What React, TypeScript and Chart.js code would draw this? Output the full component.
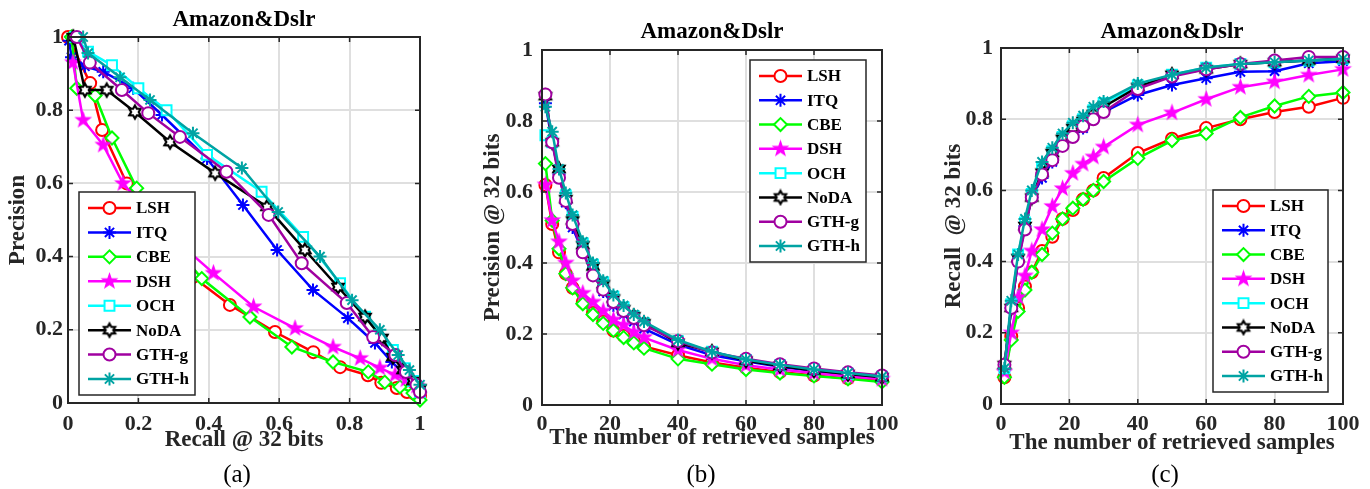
import React, { useEffect, useRef } from 'react';
import { Chart, registerables } from 'chart.js';
import { drawPoint } from 'chart.js/helpers';

Chart.register(...registerables);

const FONT = '"Liberation Serif", "Times New Roman", Times, serif';

// ---------- data ----------
const methodNames = ['LSH', 'ITQ', 'CBE', 'DSH', 'OCH', 'NoDA', 'GTH-g', 'GTH-h'];
const methodColors = ['#ff0000', '#0000ff', '#00ff00', '#ff00ff', '#00ffff', '#000000', '#a000a0', '#00a3a3'];

const unitTicks = [0, 0.2, 0.4, 0.6, 0.8, 1];
const sampleTicks = [0, 20, 40, 60, 80, 100];

// (a) precision-recall curves @ 32 bits
const recallLSH = [0.0, 0.063, 0.097, 0.167, 0.23, 0.29, 0.355, 0.46, 0.588, 0.697, 0.773, 0.852, 0.89, 0.934, 0.963, 0.985, 1.0];
const precisionLSH = [1.0, 0.874, 0.746, 0.6, 0.49, 0.41, 0.344, 0.268, 0.194, 0.139, 0.098, 0.076, 0.055, 0.041, 0.03, 0.025, 0.02];
const recallITQ = [0.003, 0.01, 0.048, 0.1, 0.185, 0.267, 0.395, 0.497, 0.594, 0.696, 0.795, 0.872, 0.92, 0.952, 0.98, 0.995];
const precisionITQ = [0.99, 0.945, 0.92, 0.905, 0.86, 0.787, 0.668, 0.541, 0.418, 0.309, 0.232, 0.164, 0.112, 0.082, 0.058, 0.035];
const recallCBE = [0.01, 0.025, 0.077, 0.125, 0.195, 0.26, 0.32, 0.38, 0.517, 0.636, 0.753, 0.853, 0.9, 0.943, 0.98, 1.0];
const precisionCBE = [1.0, 0.86, 0.84, 0.724, 0.587, 0.49, 0.41, 0.34, 0.235, 0.153, 0.112, 0.085, 0.057, 0.044, 0.027, 0.008];
const recallDSH = [0.014, 0.043, 0.1, 0.156, 0.22, 0.3, 0.413, 0.527, 0.645, 0.753, 0.83, 0.886, 0.929, 0.96, 0.99];
const precisionDSH = [0.93, 0.773, 0.705, 0.6, 0.53, 0.45, 0.355, 0.263, 0.204, 0.153, 0.122, 0.096, 0.077, 0.064, 0.047];
const recallOCH = [0.02, 0.057, 0.125, 0.2, 0.28, 0.395, 0.55, 0.668, 0.773, 0.844, 0.923, 0.957, 0.98, 1.0];
const precisionOCH = [1.0, 0.96, 0.923, 0.86, 0.8, 0.678, 0.577, 0.454, 0.327, 0.236, 0.145, 0.095, 0.06, 0.03];
const recallNoDA = [0.015, 0.048, 0.11, 0.19, 0.29, 0.418, 0.565, 0.673, 0.767, 0.844, 0.892, 0.923, 0.952, 0.98, 1.0];
const precisionNoDA = [1.0, 0.855, 0.855, 0.795, 0.713, 0.628, 0.536, 0.418, 0.317, 0.235, 0.178, 0.126, 0.09, 0.06, 0.04];
const recallGTHg = [0.025, 0.062, 0.153, 0.228, 0.318, 0.45, 0.57, 0.664, 0.792, 0.867, 0.93, 0.96, 0.99, 1.0];
const precisionGTHg = [1.0, 0.93, 0.855, 0.792, 0.727, 0.632, 0.514, 0.382, 0.273, 0.18, 0.131, 0.085, 0.05, 0.03];
const recallGTHh = [0.043, 0.057, 0.148, 0.233, 0.355, 0.494, 0.597, 0.716, 0.807, 0.886, 0.938, 0.97, 1.0];
const precisionGTHh = [1.0, 0.956, 0.89, 0.828, 0.737, 0.642, 0.522, 0.4, 0.281, 0.2, 0.131, 0.09, 0.05];

// (b), (c) versus number of retrieved samples
const retrievedSamples = [1, 3, 5, 7, 9, 12, 15, 18, 21, 24, 27, 30, 40, 50, 60, 70, 80, 90, 100];

const precAtK_LSH = [0.62, 0.51, 0.43, 0.37, 0.33, 0.29, 0.26, 0.235, 0.21, 0.195, 0.18, 0.165, 0.14, 0.12, 0.105, 0.093, 0.083, 0.075, 0.07];
const precAtK_ITQ = [0.85, 0.74, 0.65, 0.57, 0.5, 0.43, 0.37, 0.32, 0.28, 0.255, 0.235, 0.215, 0.17, 0.14, 0.123, 0.108, 0.096, 0.086, 0.078];
const precAtK_CBE = [0.68, 0.52, 0.44, 0.37, 0.33, 0.285, 0.255, 0.23, 0.21, 0.19, 0.175, 0.16, 0.13, 0.115, 0.1, 0.09, 0.082, 0.074, 0.065];
const precAtK_DSH = [0.62, 0.52, 0.46, 0.4, 0.35, 0.315, 0.29, 0.265, 0.24, 0.225, 0.205, 0.19, 0.155, 0.13, 0.112, 0.1, 0.09, 0.08, 0.073];
const precAtK_OCH = [0.76, 0.74, 0.66, 0.59, 0.53, 0.455, 0.395, 0.345, 0.305, 0.275, 0.25, 0.23, 0.18, 0.15, 0.127, 0.112, 0.1, 0.088, 0.08];
const precAtK_NoDA = [0.87, 0.74, 0.665, 0.58, 0.52, 0.45, 0.39, 0.34, 0.3, 0.27, 0.25, 0.23, 0.175, 0.15, 0.125, 0.11, 0.097, 0.087, 0.078];
const precAtK_GTHg = [0.875, 0.74, 0.64, 0.575, 0.51, 0.43, 0.365, 0.325, 0.29, 0.265, 0.245, 0.225, 0.18, 0.148, 0.13, 0.115, 0.103, 0.092, 0.083];
const precAtK_GTHh = [0.84, 0.77, 0.665, 0.597, 0.535, 0.46, 0.4, 0.35, 0.31, 0.28, 0.255, 0.235, 0.183, 0.15, 0.128, 0.113, 0.1, 0.09, 0.08];

const recAtK_LSH = [0.075, 0.19, 0.27, 0.33, 0.37, 0.43, 0.47, 0.52, 0.545, 0.575, 0.6, 0.635, 0.705, 0.745, 0.775, 0.8, 0.82, 0.835, 0.86];
const recAtK_ITQ = [0.1, 0.27, 0.4, 0.5, 0.58, 0.635, 0.68, 0.73, 0.755, 0.775, 0.8, 0.82, 0.868, 0.896, 0.915, 0.933, 0.935, 0.957, 0.963];
const recAtK_CBE = [0.075, 0.18, 0.26, 0.32, 0.37, 0.42, 0.48, 0.52, 0.55, 0.575, 0.6, 0.625, 0.69, 0.74, 0.76, 0.805, 0.837, 0.864, 0.875];
const recAtK_DSH = [0.09, 0.2, 0.3, 0.36, 0.43, 0.49, 0.555, 0.605, 0.648, 0.674, 0.694, 0.722, 0.784, 0.818, 0.856, 0.89, 0.905, 0.924, 0.94];
const recAtK_OCH = [0.1, 0.28, 0.42, 0.51, 0.59, 0.66, 0.71, 0.75, 0.78, 0.8, 0.825, 0.845, 0.895, 0.925, 0.945, 0.955, 0.96, 0.965, 0.97];
const recAtK_NoDA = [0.11, 0.27, 0.41, 0.5, 0.58, 0.65, 0.705, 0.745, 0.775, 0.795, 0.815, 0.835, 0.89, 0.925, 0.94, 0.955, 0.96, 0.965, 0.97];
const recAtK_GTHg = [0.11, 0.27, 0.4, 0.49, 0.58, 0.645, 0.685, 0.725, 0.75, 0.78, 0.8, 0.82, 0.885, 0.92, 0.94, 0.955, 0.965, 0.975, 0.975];
const recAtK_GTHh = [0.1, 0.29, 0.42, 0.52, 0.6, 0.68, 0.72, 0.76, 0.79, 0.81, 0.835, 0.85, 0.9, 0.925, 0.945, 0.955, 0.96, 0.965, 0.97];

// ---------- helpers ----------
function makeStarCanvas(points: number, outerR: number, innerR: number, fill: string, stroke: string, lw: number) {
  const size = Math.ceil(2 * outerR + lw + 2);
  const c = document.createElement('canvas');
  c.width = size;
  c.height = size;
  const g = c.getContext('2d')!;
  const cx = size / 2;
  const cy = size / 2;
  g.beginPath();
  for (let i = 0; i < points * 2; i++) {
    const r = i % 2 === 0 ? outerR : innerR;
    const ang = -Math.PI / 2 + (i * Math.PI) / points;
    const x = cx + r * Math.cos(ang);
    const y = cy + r * Math.sin(ang);
    if (i === 0) g.moveTo(x, y);
    else g.lineTo(x, y);
  }
  g.closePath();
  g.fillStyle = fill;
  g.fill();
  g.strokeStyle = stroke;
  g.lineWidth = lw;
  g.lineJoin = 'miter';
  g.stroke();
  return c;
}

function markerStyles() {
  const penta = makeStarCanvas(5, 7.5, 3.0, '#ff00ff', '#ff00ff', 1.2);
  const hexa = makeStarCanvas(6, 6.5, 3.8, '#ffffff', '#000000', 2.2);
  return [
    { pointStyle: 'circle', radius: 6 },
    { pointStyle: 'star', radius: 6.5 },
    { pointStyle: 'rectRot', radius: 6.5 },
    { pointStyle: penta, radius: 7 },
    { pointStyle: 'rect', radius: 7 },
    { pointStyle: hexa, radius: 7 },
    { pointStyle: 'circle', radius: 6 },
    { pointStyle: 'star', radius: 6.5 },
  ] as any[];
}

type Layout = {
  padRight: number;
  titleTop: number;
  titleBottom: number;
  yAxisWidth: number;
  xAxisHeight: number;
  yTitlePad: number;
  xTitlePad: number;
  xTickPad: number;
  yTickPad: number;
  legend: { dx: number; dy: number; w: number; h: number };
};

type ChartSpec = {
  xs: number[][];
  ys: number[][];
  xMax: number;
  xTicks: number[];
  xTitle: string;
  yTitle: string;
  layout: Layout;
};

function buildChart(canvas: HTMLCanvasElement, spec: ChartSpec) {
  const markers = markerStyles();
  const L = spec.layout;
  const datasets = methodNames.map((name, i) => ({
    label: name,
    data: spec.xs[i].map((x, j) => ({ x, y: spec.ys[i][j] })),
    showLine: true,
    borderColor: methodColors[i],
    backgroundColor: methodColors[i],
    borderWidth: 2.5,
    pointStyle: markers[i].pointStyle,
    pointRadius: markers[i].radius,
    pointBorderWidth: 2,
    pointBorderColor: methodColors[i],
    pointBackgroundColor: '#ffffff',
    clip: false as any,
    order: methodNames.length - i,
  }));

  const boxPlugin = {
    id: 'matlabBox',
    afterDatasetsDraw(chart: any) {
      const { ctx, chartArea: a, scales } = chart;
      ctx.save();
      // inward tick marks
      ctx.strokeStyle = '#262626';
      ctx.lineWidth = 1.5;
      ctx.beginPath();
      spec.xTicks.forEach((v) => {
        const px = scales.x.getPixelForValue(v);
        ctx.moveTo(px, a.bottom);
        ctx.lineTo(px, a.bottom - 5);
        ctx.moveTo(px, a.top);
        ctx.lineTo(px, a.top + 5);
      });
      unitTicks.forEach((v) => {
        const py = scales.y.getPixelForValue(v);
        ctx.moveTo(a.left, py);
        ctx.lineTo(a.left + 5, py);
        ctx.moveTo(a.right, py);
        ctx.lineTo(a.right - 5, py);
      });
      ctx.stroke();
      // box
      ctx.lineWidth = 2;
      ctx.strokeRect(a.left, a.top, a.right - a.left, a.bottom - a.top);

      // legend
      const lg = L.legend;
      const bx = a.left + lg.dx;
      const by = a.top + lg.dy;
      ctx.fillStyle = '#ffffff';
      ctx.fillRect(bx, by, lg.w, lg.h);
      ctx.strokeStyle = '#262626';
      ctx.lineWidth = 1.5;
      ctx.strokeRect(bx, by, lg.w, lg.h);
      const step = (lg.h - 32) / (methodNames.length - 1);
      methodNames.forEach((name, i) => {
        const y = by + 16 + i * step;
        ctx.strokeStyle = methodColors[i];
        ctx.lineWidth = 2.5;
        ctx.beginPath();
        ctx.moveTo(bx + 9, y);
        ctx.lineTo(bx + 52, y);
        ctx.stroke();
        ctx.fillStyle = '#ffffff';
        ctx.strokeStyle = methodColors[i];
        ctx.lineWidth = 2;
        drawPoint(ctx, { pointStyle: markers[i].pointStyle, radius: markers[i].radius, borderWidth: 2, rotation: 0 } as any, bx + 30.5, y);
        ctx.fillStyle = '#000000';
        ctx.font = `bold 17px ${FONT}`;
        ctx.textAlign = 'left';
        ctx.textBaseline = 'middle';
        ctx.fillText(name, bx + 57, y + 1);
      });
      ctx.restore();
    },
  };

  const tickLabel = (v: any) => String(Number(v));

  return new Chart(canvas, {
    type: 'scatter',
    data: { datasets: datasets as any },
    options: {
      responsive: false,
      animation: false,
      devicePixelRatio: 1,
      layout: { padding: { left: 0, right: L.padRight, top: 0, bottom: 0 } },
      plugins: {
        legend: { display: false },
        tooltip: { enabled: false },
        title: {
          display: true,
          text: 'Amazon&Dslr',
          color: '#000000',
          fullSize: false,
          font: { family: FONT, size: 23, weight: 'bold', lineHeight: 1.2 },
          padding: { top: L.titleTop, bottom: L.titleBottom },
        },
      },
      scales: {
        x: {
          type: 'linear',
          min: 0,
          max: spec.xMax,
          afterBuildTicks: (s: any) => {
            s.ticks = spec.xTicks.map((v) => ({ value: v }));
          },
          afterFit: (s: any) => {
            s.height = L.xAxisHeight;
          },
          grid: { color: '#dfdfdf', lineWidth: 2, drawTicks: false },
          border: { display: false },
          ticks: {
            color: '#262626',
            padding: L.xTickPad,
            maxRotation: 0,
            callback: tickLabel,
            font: { family: FONT, size: 22, weight: 'bold' },
          },
          title: {
            display: true,
            text: spec.xTitle,
            color: '#262626',
            font: { family: FONT, size: 23, weight: 'bold', lineHeight: 1.2 },
            padding: { top: 0, bottom: L.xTitlePad },
          },
        },
        y: {
          type: 'linear',
          min: 0,
          max: 1,
          afterBuildTicks: (s: any) => {
            s.ticks = unitTicks.map((v) => ({ value: v }));
          },
          afterFit: (s: any) => {
            s.width = L.yAxisWidth;
          },
          grid: { color: '#dfdfdf', lineWidth: 2, drawTicks: false },
          border: { display: false },
          ticks: {
            color: '#262626',
            padding: L.yTickPad,
            callback: tickLabel,
            font: { family: FONT, size: 22, weight: 'bold' },
          },
          title: {
            display: true,
            text: spec.yTitle,
            color: '#262626',
            font: { family: FONT, size: 23, weight: 'bold', lineHeight: 1.2 },
            padding: { top: L.yTitlePad, bottom: 0 },
          },
        },
      },
    } as any,
    plugins: [boxPlugin as any],
  });
}

const specA: ChartSpec = {
  xs: [recallLSH, recallITQ, recallCBE, recallDSH, recallOCH, recallNoDA, recallGTHg, recallGTHh],
  ys: [precisionLSH, precisionITQ, precisionCBE, precisionDSH, precisionOCH, precisionNoDA, precisionGTHg, precisionGTHh],
  xMax: 1,
  xTicks: unitTicks,
  xTitle: 'Recall @ 32 bits',
  yTitle: 'Precision',
  layout: {
    padRight: 40, titleTop: 6.2, titleBottom: 3.2, yAxisWidth: 68, xAxisHeight: 57,
    yTitlePad: 4.2, xTitlePad: 6.2, xTickPad: 8, yTickPad: 5,
    legend: { dx: 11, dy: 155, w: 116, h: 203 },
  },
};

const specB: ChartSpec = {
  xs: methodNames.map(() => retrievedSamples),
  ys: [precAtK_LSH, precAtK_ITQ, precAtK_CBE, precAtK_DSH, precAtK_OCH, precAtK_NoDA, precAtK_GTHg, precAtK_GTHh],
  xMax: 100,
  xTicks: sampleTicks,
  xTitle: 'The number of retrieved samples',
  yTitle: 'Precision @ 32 bits',
  layout: {
    padRight: 38, titleTop: 18.7, titleBottom: 3.7, yAxisWidth: 72, xAxisHeight: 55,
    yTitlePad: 9.2, xTitlePad: 8.2, xTickPad: 6.3, yTickPad: 9,
    legend: { dx: 208, dy: 10, w: 116, h: 202 },
  },
};

const specC: ChartSpec = {
  xs: methodNames.map(() => retrievedSamples),
  ys: [recAtK_LSH, recAtK_ITQ, recAtK_CBE, recAtK_DSH, recAtK_OCH, recAtK_NoDA, recAtK_GTHg, recAtK_GTHh],
  xMax: 100,
  xTicks: sampleTicks,
  xTitle: 'The number of retrieved samples',
  yTitle: 'Recall  @ 32 bits',
  layout: {
    padRight: 27, titleTop: 18.7, titleBottom: 1.7, yAxisWidth: 71, xAxisHeight: 56,
    yTitlePad: 10.2, xTitlePad: 3.2, xTickPad: 7.3, yTickPad: 8,
    legend: { dx: 212, dy: 142, w: 115, h: 202 },
  },
};

function Panel({ spec, left, width }: { spec: ChartSpec; left: number; width: number }) {
  const ref = useRef<HTMLCanvasElement | null>(null);
  useEffect(() => {
    if (!ref.current) return;
    const chart = buildChart(ref.current, spec);
    return () => chart.destroy();
  }, [spec]);
  return (
    <canvas
      ref={ref}
      width={width}
      height={460}
      style={{ position: 'absolute', left, top: 0, width, height: 460 }}
    />
  );
}

const captionStyle: React.CSSProperties = {
  position: 'absolute',
  top: 459,
  width: 100,
  textAlign: 'center',
  fontFamily: FONT,
  fontSize: 25,
  lineHeight: '30px',
  color: '#000',
};

export default function App() {
  return (
    <div style={{ position: 'absolute', left: 0, top: 0, width: 1370, height: 489, background: '#ffffff', overflow: 'hidden' }}>
      <Panel spec={specA} left={0} width={460} />
      <Panel spec={specB} left={470} width={450} />
      <Panel spec={specC} left={930} width={440} />
      <div style={{ ...captionStyle, left: 237 - 50 }}>(a)</div>
      <div style={{ ...captionStyle, left: 701 - 50 }}>(b)</div>
      <div style={{ ...captionStyle, left: 1165 - 50 }}>(c)</div>
    </div>
  );
}
